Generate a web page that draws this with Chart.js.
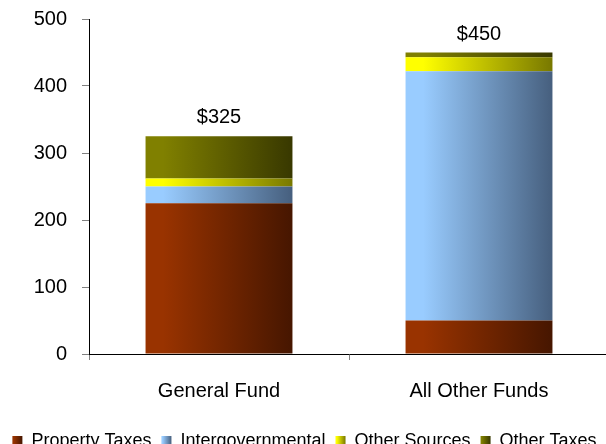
<!DOCTYPE html>
<html><head><meta charset="utf-8">
<script src="https://cdn.jsdelivr.net/npm/chart.js@4"></script>
<style>
html,body{margin:0;padding:0;overflow:hidden;background:#fff;width:606px;height:444px}
#wrap{width:609px;height:460px}
</style></head>
<body><div id="wrap"><canvas id="c" width="609" height="460"></canvas></div>
<script>
const categories = ['General Fund', 'All Other Funds'];
const seriesNames = ['Property Taxes', 'Intergovernmental', 'Other Sources', 'Other Taxes'];
const propertyTaxes = [225, 50];
const intergovernmental = [25, 372];
const otherSources = [12, 21];
const otherTaxes = [63, 7];
const yTicks = [0, 100, 200, 300, 400, 500];
const seriesLight = ['#993300', '#99ccff', '#ffff00', '#808000'];
const seriesDark = ['#461600', '#465f7e', '#787800', '#383800'];

const FONT = "'Liberation Sans', Arial, sans-serif";
const seriesValues = [propertyTaxes, intergovernmental, otherSources, otherTaxes];
const BAR_PCT = 0.565;

function makeGrad(ctx2d, x0, x1, i) {
  const g = ctx2d.createLinearGradient(x0, 0, x1, 0);
  g.addColorStop(0, seriesLight[i]);
  g.addColorStop(0.12, seriesLight[i]);
  g.addColorStop(1, seriesDark[i]);
  return g;
}

function barColor(i) {
  return function (context) {
    const chart = context.chart;
    if (context.dataIndex === undefined || !chart.chartArea) return seriesLight[i];
    const xs = chart.scales.x;
    const cx = xs.getPixelForValue(context.dataIndex);
    const w = xs.width / categories.length * BAR_PCT;
    return makeGrad(chart.ctx, cx - w / 2, cx + w / 2, i);
  };
}

const totalsPlugin = {
  id: 'totals',
  afterDatasetsDraw(chart) {
    const ctx = chart.ctx;
    const lastMeta = chart.getDatasetMeta(seriesValues.length - 1);
    ctx.save();
    ctx.font = '20px ' + FONT;
    ctx.fillStyle = '#000';
    ctx.textAlign = 'center';
    ctx.textBaseline = 'alphabetic';
    categories.forEach((c, j) => {
      let total = 0;
      seriesValues.forEach(s => total += s[j]);
      const el = lastMeta.data[j];
      ctx.fillText('$' + total, el.x, el.y - 13);
    });
    ctx.restore();
  }
};

const legendGradPlugin = {
  id: 'legendGrad',
  beforeDraw(chart) {
    const lg = chart.legend;
    if (!lg || !lg.legendHitBoxes || !lg.legendItems) return;
    const bw = lg.options.labels.boxWidth;
    lg.legendItems.forEach((item, i) => {
      const hb = lg.legendHitBoxes[i];
      if (!hb) return;
      item.fillStyle = makeGrad(chart.ctx, hb.left, hb.left + bw, i);
      item.lineWidth = 0;
      item.strokeStyle = 'rgba(0,0,0,0)';
    });
  }
};

const datasets = seriesNames.map((name, i) => ({
  label: name,
  data: seriesValues[i],
  backgroundColor: barColor(i),
  borderWidth: 0,
  barPercentage: BAR_PCT,
  categoryPercentage: 1
}));

new Chart(document.getElementById('c'), {
  type: 'bar',
  data: { labels: categories, datasets },
  plugins: [totalsPlugin, legendGradPlugin],
  options: {
    responsive: false,
    animation: false,
    devicePixelRatio: 1,
    layout: { padding: { top: 0, left: 0, right: 0, bottom: 0 } },
    plugins: {
      tooltip: { enabled: false },
      legend: {
        position: 'bottom',
        align: 'center',
        labels: {
          boxWidth: 10, boxHeight: 10, padding: 10, color: '#000',
          font: { family: FONT, size: 18 }
        }
      }
    },
    scales: {
      x: {
        stacked: true,
        grid: { display: true, drawOnChartArea: false, drawTicks: true, tickLength: 6, color: '#808080', offset: true },
        border: { display: true, color: '#000', width: 1 },
        ticks: { color: '#000', padding: 3, font: { family: FONT, size: 20, lineHeight: 2.8 } }
      },
      y: {
        stacked: true,
        min: yTicks[0],
        max: yTicks[yTicks.length - 1],
        afterFit(s) { s.width = 89; },
        afterBuildTicks(s) { s.ticks = yTicks.map(v => ({ value: v })); },
        grid: { drawOnChartArea: false, tickLength: 7, color: '#808080' },
        border: { display: true, color: '#000', width: 1 },
        ticks: { color: '#000', padding: 15, font: { family: FONT, size: 20, lineHeight: 0.4 } }
      }
    }
  }
});
</script>
</body></html>
